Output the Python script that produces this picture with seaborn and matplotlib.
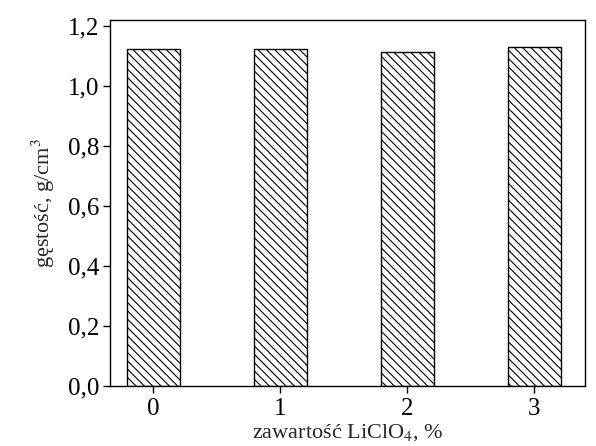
import pandas as pd
import matplotlib
matplotlib.use("Agg")
import matplotlib.pyplot as plt
import seaborn as sns
from matplotlib.ticker import FuncFormatter

# data
licl_content = ["0", "1", "2", "3"]
density = [1.123, 1.122, 1.113, 1.131]

df = pd.DataFrame({"content": licl_content, "density": density})

sns.set_style("ticks")
plt.rcParams["font.family"] = ["Liberation Serif", "DejaVu Serif"]
plt.rcParams["mathtext.fontset"] = "stix"
plt.rcParams["hatch.linewidth"] = 0.8

fig = plt.figure(figsize=(5.96, 4.46), dpi=100)
ax = fig.add_axes([0.185, 0.135, 0.797, 0.82])

sns.barplot(data=df, x="content", y="density", color="white", edgecolor="black",
            linewidth=1.0, width=0.42, hatch="\\\\\\\\", ax=ax)

ax.set_ylim(0, 1.22)
ax.set_xlim(-0.34, 3.4)
ax.set_yticks([0, 0.2, 0.4, 0.6, 0.8, 1.0, 1.2])
ax.yaxis.set_major_formatter(FuncFormatter(lambda v, p: f"{v:.1f}".replace(".", ",")))
for s in ax.spines.values():
    s.set_visible(True)
    s.set_linewidth(1.0)
    s.set_color("black")
ax.tick_params(direction="out", length=5, width=1, labelsize=18, colors="black")
ax.tick_params(axis="y", pad=3)
ax.set_xlabel("zawartość LiClO$_4$, %", fontsize=16, labelpad=2)
ax.set_ylabel("gęstość, g/cm$^3$", fontsize=16, labelpad=8)

fig.savefig("out.png", dpi=100)
